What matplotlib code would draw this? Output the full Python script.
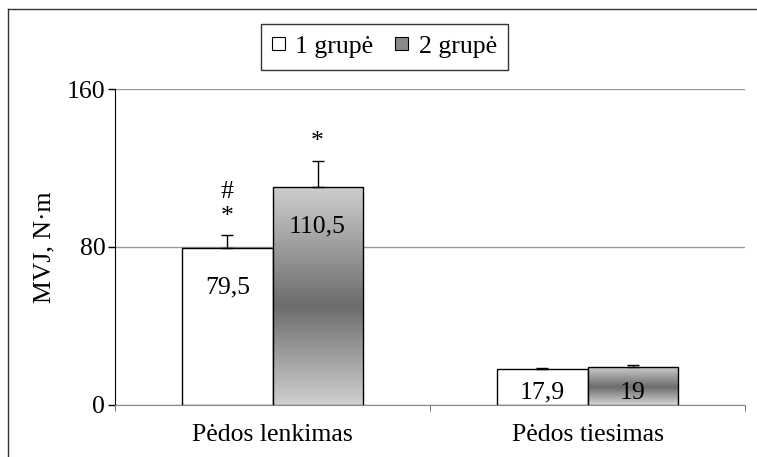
import numpy as np
import matplotlib
matplotlib.use("Agg")
import matplotlib.pyplot as plt
from matplotlib.patches import Patch
from matplotlib.colors import LinearSegmentedColormap
from matplotlib.lines import Line2D

# data
categories = ["Pėdos lenkimas", "Pėdos tiesimas"]
series_names = ["1 grupė", "2 grupė"]
group1 = [79.5, 17.9]
group2 = [110.5, 19.0]
group1_err = [6.4, 0.5]
group2_err = [13.0, 1.2]
group1_labels = ["79,5", "17,9"]
group2_labels = ["110,5", "19"]
# significance marks above bars (category index, series, text lines)
marks = [(0, 0, "#\n*"), (0, 1, "*")]

plt.rcParams["font.family"] = ["Liberation Serif", "DejaVu Serif"]
plt.rcParams["font.size"] = 18.5

fig = plt.figure(figsize=(7.57, 4.57), dpi=100)
ax = fig.add_axes([115 / 757, 1 - 404.5 / 457, 630 / 757, 315 / 457])

x = np.arange(len(categories))
w = 0.286

b1 = ax.bar(x - w / 2, group1, w, color="white", edgecolor="black", lw=1, zorder=3)
b2 = ax.bar(x + w / 2, group2, w, color="none", edgecolor="black", lw=1, zorder=4)

# grey gradient inside 2 grupė bars (light - dark - light)
cmap = LinearSegmentedColormap.from_list(
    "grad", [(0, "#cfcfd1"), (0.55, "#6c6c6c"), (1, "#cfcfd1")])
grad = np.linspace(0, 1, 256).reshape(-1, 1)
for bar in b2:
    x0, y0 = bar.get_x(), bar.get_y()
    im = ax.imshow(grad, cmap=cmap, aspect="auto", origin="upper",
                   extent=[x0, x0 + bar.get_width(), y0, y0 + bar.get_height()],
                   zorder=3.5)
    im.set_clip_path(bar)

ax.errorbar(x - w / 2, group1, yerr=[np.zeros(2), group1_err], fmt="none",
            ecolor="black", elinewidth=1, capsize=4, capthick=1, zorder=5)
ax.errorbar(x + w / 2, group2, yerr=[np.zeros(2), group2_err], fmt="none",
            ecolor="black", elinewidth=1, capsize=4, capthick=1, zorder=5)

for xi, v, lab in zip(x - w / 2, group1, group1_labels):
    ax.text(xi, max(v - 20, 6), lab, ha="center", va="center", zorder=6)
for xi, v, lab in zip(x + w / 2, group2, group2_labels):
    ax.text(xi, max(v - 20, 6), lab, ha="center", va="center", zorder=6)

tops = [np.array(group1) + group1_err, np.array(group2) + group2_err]
for ci, si, txt in marks:
    xi = ci + (w / 2 if si else -w / 2)
    ax.text(xi, tops[si][ci] + 4, txt, ha="center", va="bottom",
            linespacing=1.15, zorder=6)

ax.set_xlim(-0.5, 1.5)
ax.set_ylim(0, 160)
ax.set_yticks([0, 80, 160])
ax.set_xticks(x)
ax.set_xticklabels(categories)
ax.set_xticks([-0.5, 0.5, 1.5], minor=True)
ax.tick_params(axis="x", which="major", length=0, pad=14)
ax.tick_params(axis="x", which="minor", length=4, color="#555555")
ax.tick_params(axis="y", length=5, width=1, pad=2)
ax.yaxis.grid(True, color="#999999", lw=1, zorder=0)
ax.set_axisbelow(True)
for s in ["top", "right"]:
    ax.spines[s].set_visible(False)
ax.spines["left"].set_color("black")
ax.spines["bottom"].set_color("#888888")
ax.set_ylabel("MVJ, N·m", labelpad=8)

handles = [Patch(facecolor="white", edgecolor="black", lw=0.8),
           Patch(facecolor="#8a8a8a", edgecolor="black", lw=0.8)]
leg = fig.legend(handles, series_names, loc="center", bbox_to_anchor=(384.5 / 757, 1 - 47 / 457),
                 ncol=2, frameon=True, fancybox=False, handlelength=0.5,
                 handleheight=0.4, handletextpad=0.4, columnspacing=0.85,
                 borderpad=0.45, borderaxespad=0)
leg.get_frame().set_edgecolor("black")
leg.get_frame().set_linewidth(1)

# outer frame (only top and left edges visible)
fig.add_artist(Line2D([7.5 / 757, 7.5 / 757], [0, 1 - 9 / 457], color="#333333", lw=1))
fig.add_artist(Line2D([7.5 / 757, 1], [1 - 9 / 457, 1 - 9 / 457], color="#333333", lw=1))

fig.savefig("out.png", dpi=100)
